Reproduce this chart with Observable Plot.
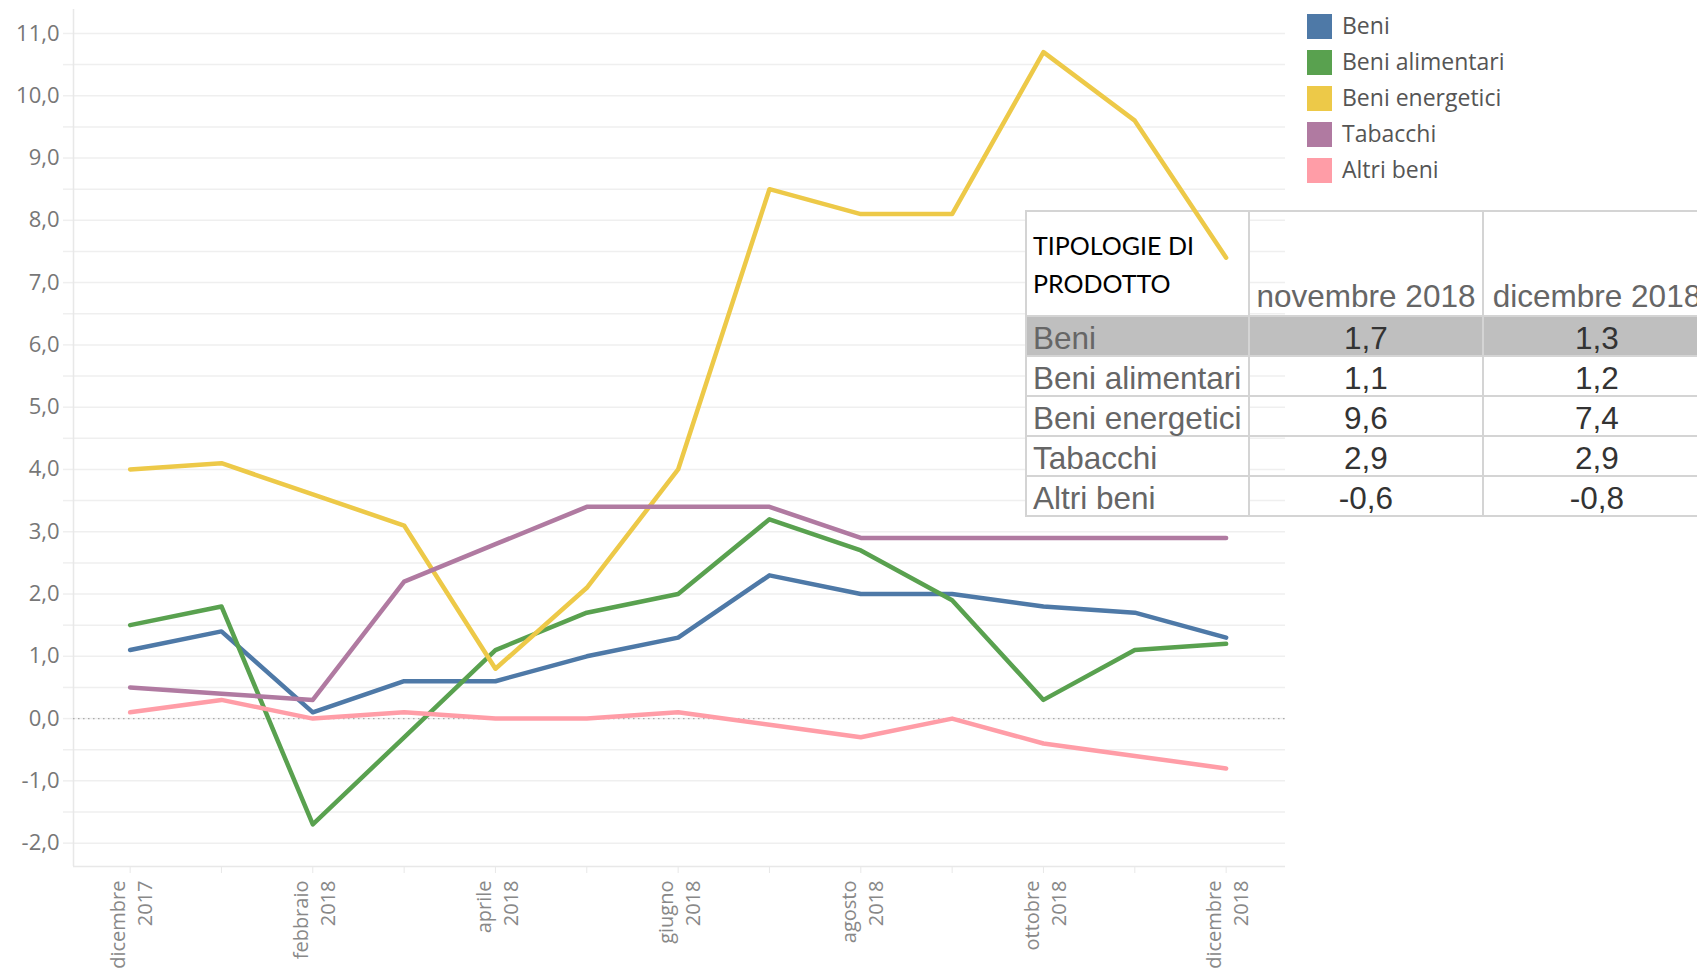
<!DOCTYPE html>
<html><head><meta charset="utf-8">
<script src="https://cdn.jsdelivr.net/npm/d3@7"></script>
<script src="https://cdn.jsdelivr.net/npm/@observablehq/plot@0.6"></script>
<style>
html,body{margin:0;padding:0;background:#fff;overflow:hidden;width:1697px;height:974px;}
#wrap{position:relative;width:1697px;height:974px;overflow:hidden;}
#base,#lines{position:absolute;left:0;top:0;}
#legend{position:absolute;left:1307px;top:14px;font-family:"Open Sans";font-size:23px;color:#555;}
.li{height:36px;display:flex;align-items:flex-start;}
.sw{width:25px;height:25px;margin-right:10px;flex:none;}
.lt{line-height:25px;margin-top:-1px;}
#tbl{position:absolute;left:1025px;top:210px;width:685px;border-collapse:collapse;table-layout:fixed;font-family:"Liberation Sans",Arial,sans-serif;}
#tbl td{border:2px solid #d4d4d4;padding:0 6px 1px 6px;vertical-align:bottom;font-size:31.5px;line-height:31px;white-space:nowrap;overflow:visible;}
#tbl td.lab{color:#666;background:#fff;text-align:left;}
#tbl td.val{color:#333;text-align:center;}
#tbl td.hd{color:#666;text-align:center;padding-bottom:3px;}
#tbl td.h1{font-family:Lato,"Open Sans",sans-serif;font-size:25px;line-height:38px;color:#000;vertical-align:middle;background:#fff;padding:0 6px 0 6px;}
#tbl tr.hl td{background:#bfbfbf;}
</style>
</head><body>
<div id="wrap">
  <div id="base"></div>
  <table id="tbl"></table>
  <div id="lines"></div>
  <div id="legend"></div>
</div>
<script>
// ---- data ----
const monthLabels = ["dicembre\n2017","gennaio\n2018","febbraio\n2018","marzo\n2018","aprile\n2018","maggio\n2018","giugno\n2018","luglio\n2018","agosto\n2018","settembre\n2018","ottobre\n2018","novembre\n2018","dicembre\n2018"];
const monthIdx = [0,1,2,3,4,5,6,7,8,9,10,11,12];
const labelIdx = [0,2,4,6,8,10,12];
const seriesNames = ["Beni","Beni alimentari","Beni energetici","Tabacchi","Altri beni"];
const seriesColors = ["#4e79a7","#59a14f","#edc948","#b07aa1","#ff9da7"];
const beni          = [1.1, 1.4, 0.1, 0.6, 0.6, 1.0, 1.3, 2.3, 2.0, 2.0, 1.8, 1.7, 1.3];
const beniAlimentari= [1.5, 1.8,-1.7,-0.3, 1.1, 1.7, 2.0, 3.2, 2.7, 1.9, 0.3, 1.1, 1.2];
const beniEnergetici= [4.0, 4.1, 3.6, 3.1, 0.8, 2.1, 4.0, 8.5, 8.1, 8.1,10.7, 9.6, 7.4];
const tabacchi      = [0.5, 0.4, 0.3, 2.2, 2.8, 3.4, 3.4, 3.4, 2.9, 2.9, 2.9, 2.9, 2.9];
const altriBeni     = [0.1, 0.3, 0.0, 0.1, 0.0, 0.0, 0.1,-0.1,-0.3, 0.0,-0.4,-0.6,-0.8];
const yGrid = [-2,-1.5,-1,-0.5,0,0.5,1,1.5,2,2.5,3,3.5,4,4.5,5,5.5,6,6.5,7,7.5,8,8.5,9,9.5,10,10.5,11];
const tableCols = ["novembre 2018","dicembre 2018"];
const tableHeader = "TIPOLOGIE DI<br>PRODOTTO";

const allSeries = [beni, beniAlimentari, beniEnergetici, tabacchi, altriBeni];
const data = [];
allSeries.forEach((vals, s) => vals.forEach((v, i) => data.push({series: seriesNames[s], i, v})));

const xDomain = [-0.62, 12.65];
const yDomain = [-2.375, 11.385];
const fmt = d => d.toFixed(1).replace(".", ",");

const common = {
  width: 1290, height: 974,
  marginLeft: 73, marginRight: 5, marginTop: 9, marginBottom: 108,
  x: {domain: xDomain, axis: null},
  y: {domain: yDomain, axis: null},
  style: {fontFamily: "Open Sans", background: "transparent", overflow: "visible"}
};

const base = Plot.plot({
  ...common,
  marks: [
    Plot.gridY(yGrid, {stroke: "#efefef", strokeOpacity: 1, strokeWidth: 1.5}),
    Plot.axisY(yGrid, {tickSize: 10, stroke: "#efefef", strokeOpacity: 1, strokeWidth: 1.5, tickPadding: 4,
      tickFormat: d => Number.isInteger(d) ? fmt(d) : "", fill: "#777", fontSize: 22}),
    Plot.ruleX([xDomain[0]], {stroke: "#e8e8e8", strokeWidth: 1.5}),
    Plot.ruleY([yDomain[0]], {stroke: "#e8e8e8", strokeWidth: 1.5}),
    Plot.ruleY([0], {stroke: "#aaa", strokeDasharray: "1.5,3.5", strokeWidth: 1.2}),
    Plot.axisX(monthIdx, {tickSize: 7, stroke: "#e8e8e8", strokeOpacity: 1, tickFormat: () => ""}),
    Plot.axisX(labelIdx, {tickSize: 0, tickPadding: 14, tickRotate: -90, tickFormat: i => monthLabels[i],
      fill: "#888", fontSize: 20, lineHeight: 1.35})
  ]
});
document.getElementById("base").appendChild(base);

const lines = Plot.plot({
  ...common,
  color: {domain: seriesNames, range: seriesColors},
  marks: [
    Plot.line(data, {x: "i", y: "v", z: "series", stroke: "series", strokeWidth: 4.5, strokeLinejoin: "round", strokeLinecap: "round"})
  ]
});
document.getElementById("lines").appendChild(lines);

// legend
const leg = document.getElementById("legend");
seriesNames.forEach((n, k) => {
  const row = document.createElement("div");
  row.className = "li";
  row.innerHTML = `<div class="sw" style="background:${seriesColors[k]}"></div><div class="lt">${n}</div>`;
  leg.appendChild(row);
});

// table
const tbl = document.getElementById("tbl");
let html = `<colgroup><col style="width:223px"><col style="width:234px"><col style="width:228px"></colgroup>`;
html += `<tr style="height:105px"><td class="h1">${tableHeader}</td><td class="hd">${tableCols[0]}</td><td class="hd">${tableCols[1]}</td></tr>`;
seriesNames.forEach((n, k) => {
  const vals = allSeries[k];
  html += `<tr class="${k === 0 ? "hl" : ""}" style="height:40px"><td class="lab">${n}</td><td class="val">${fmt(vals[11])}</td><td class="val">${fmt(vals[12])}</td></tr>`;
});
tbl.innerHTML = html;
</script>
</body></html>
